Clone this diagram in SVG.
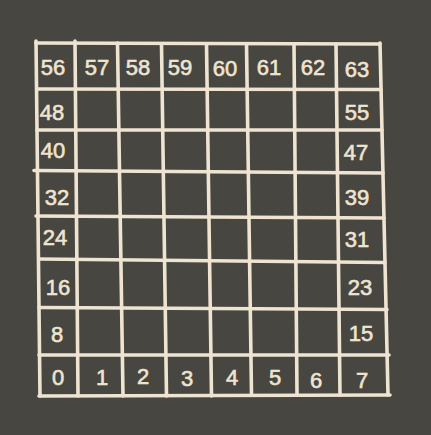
<svg xmlns="http://www.w3.org/2000/svg" width="431" height="435" viewBox="0 0 431 435">
<style>
.g line{stroke:#eee4d1;stroke-width:3.6;stroke-linecap:round;fill:none}
.t text{font-family:"Liberation Sans",Arial,sans-serif;font-size:22px;fill:#eee4d1;stroke:#eee4d1;stroke-width:0.6;text-anchor:middle;dominant-baseline:central}
</style>
<rect width="431" height="435" fill="#474641"/>
<g id="grid" class="g">
<line x1="36" y1="41" x2="40" y2="396"/>
<line x1="75" y1="41" x2="78" y2="396"/>
<line x1="117.5" y1="43" x2="123" y2="396"/>
<line x1="161.5" y1="44" x2="166.5" y2="396"/>
<line x1="206.5" y1="44" x2="211.5" y2="396"/>
<line x1="246.5" y1="44" x2="251.5" y2="395"/>
<line x1="294" y1="44" x2="297" y2="395"/>
<line x1="336" y1="44" x2="340" y2="395"/>
<line x1="380" y1="43" x2="388" y2="395"/>
<line x1="36" y1="43" x2="380" y2="44"/>
<line x1="38" y1="89" x2="381" y2="89.5"/>
<line x1="37" y1="130" x2="382" y2="130"/>
<line x1="34" y1="170.5" x2="383" y2="173"/>
<line x1="36" y1="216" x2="384" y2="218"/>
<line x1="39" y1="259" x2="385" y2="262.5"/>
<line x1="39" y1="307.5" x2="387" y2="309.5"/>
<line x1="39" y1="355" x2="389" y2="355"/>
<line x1="39" y1="396" x2="390" y2="395"/>
</g>
<g class="t">
<g id="n56"><text x="53" y="67">56</text></g>
<g id="n57"><text x="97" y="67">57</text></g>
<g id="n58"><text x="138" y="67">58</text></g>
<g id="n59"><text x="180" y="67">59</text></g>
<g id="n60"><text x="225" y="68">60</text></g>
<g id="n61"><text x="269" y="67">61</text></g>
<g id="n62"><text x="313" y="67">62</text></g>
<g id="n63"><text x="357" y="69">63</text></g>
<g id="n48"><text x="52" y="112">48</text></g>
<g id="n55"><text x="357" y="112">55</text></g>
<g id="n40"><text x="53" y="150">40</text></g>
<g id="n47"><text x="356" y="152">47</text></g>
<g id="n32"><text x="57" y="197">32</text></g>
<g id="n39"><text x="357" y="197">39</text></g>
<g id="n24"><text x="55" y="237">24</text></g>
<g id="n31"><text x="357" y="239">31</text></g>
<g id="n16"><text x="58" y="287">16</text></g>
<g id="n23"><text x="360" y="287">23</text></g>
<g id="n8"><text x="57" y="334">8</text></g>
<g id="n15"><text x="361" y="333">15</text></g>
<g id="n0"><text x="58" y="377">0</text></g>
<g id="n1"><text x="102" y="377">1</text></g>
<g id="n2"><text x="143" y="376">2</text></g>
<g id="n3"><text x="187" y="378">3</text></g>
<g id="n4"><text x="232" y="377">4</text></g>
<g id="n5"><text x="275" y="377">5</text></g>
<g id="n6"><text x="316" y="380">6</text></g>
<g id="n7"><text x="362" y="380">7</text></g>
</g>
</svg>
